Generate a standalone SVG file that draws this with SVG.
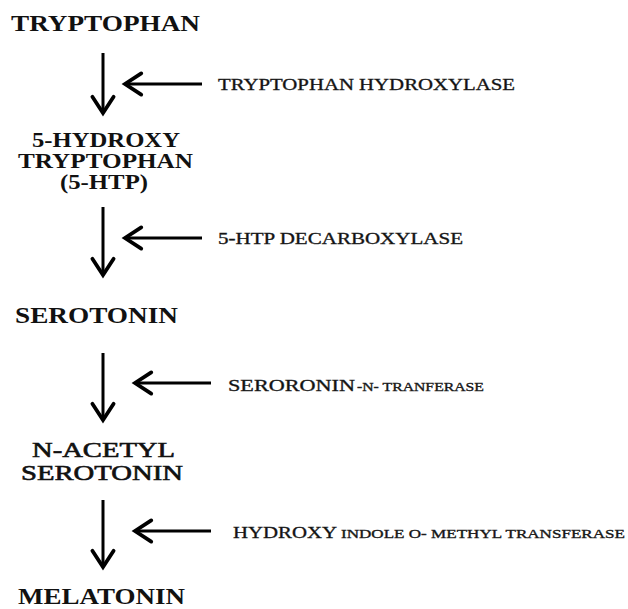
<svg xmlns="http://www.w3.org/2000/svg" width="628" height="609" viewBox="0 0 628 609">
<style>
text{font-family:"Liberation Serif","Times New Roman",serif;fill:#111}
.h{font-weight:bold;font-size:24px}
.h2{font-weight:bold;font-size:20px}
.h3{font-weight:normal;font-size:21px;stroke:#111;stroke-width:0.6}
.e{font-size:16.5px;stroke:#222;stroke-width:0.35}
.es{font-size:13px;stroke:#222;stroke-width:0.35}
.c line{stroke:#000;stroke-width:3}
</style>
<defs>
<marker id="ah" markerUnits="userSpaceOnUse" markerWidth="30" markerHeight="30" refX="0" refY="0" viewBox="-16 -12 20 24" orient="auto" overflow="visible">
<path d="M-13,-8.5 L0,0 L-13,8.5" fill="none" stroke="#000" stroke-width="3" stroke-linecap="round" stroke-linejoin="miter"/>
</marker>
</defs>
<rect width="628" height="609" fill="#fff"/>
<g id="connectors" class="c">
<line x1="103" y1="53" x2="103" y2="113" marker-end="url(#ah)"/>
<line x1="202" y1="84" x2="125" y2="84" marker-end="url(#ah)"/>
<line x1="103" y1="207" x2="103" y2="275" marker-end="url(#ah)"/>
<line x1="202" y1="238" x2="125" y2="238" marker-end="url(#ah)"/>
<line x1="103" y1="353" x2="103" y2="420" marker-end="url(#ah)"/>
<line x1="211" y1="383" x2="135" y2="383" marker-end="url(#ah)"/>
<line x1="103" y1="500" x2="103" y2="567" marker-end="url(#ah)"/>
<line x1="211" y1="531" x2="135" y2="531" marker-end="url(#ah)"/>
</g>
<g id="tryptophan"><text class="h" x="11" y="31" textLength="189" lengthAdjust="spacingAndGlyphs">TRYPTOPHAN</text></g>
<g id="htp">
<text class="h2" x="32" y="147" textLength="148" lengthAdjust="spacingAndGlyphs">5-HYDROXY</text>
<text class="h2" x="18" y="168" textLength="175" lengthAdjust="spacingAndGlyphs">TRYPTOPHAN</text>
<text class="h2" x="60" y="189" textLength="88" lengthAdjust="spacingAndGlyphs">(5-HTP)</text>
</g>
<g id="serotonin"><text class="h" x="15" y="323" textLength="163" lengthAdjust="spacingAndGlyphs">SEROTONIN</text></g>
<g id="nacetyl">
<text class="h3" x="32" y="457" textLength="143" lengthAdjust="spacingAndGlyphs">N-ACETYL</text>
<text class="h3" x="21" y="480" textLength="162" lengthAdjust="spacingAndGlyphs">SEROTONIN</text>
</g>
<g id="melatonin"><text class="h" x="18" y="604" textLength="167" lengthAdjust="spacingAndGlyphs">MELATONIN</text></g>
<g id="enzyme1"><text class="e" x="218" y="90" textLength="297" lengthAdjust="spacingAndGlyphs">TRYPTOPHAN HYDROXYLASE</text></g>
<g id="enzyme2"><text class="e" x="218" y="244" textLength="245" lengthAdjust="spacingAndGlyphs">5-HTP DECARBOXYLASE</text></g>
<g id="enzyme3">
<text class="e" x="228" y="391" textLength="127" lengthAdjust="spacingAndGlyphs">SERORONIN</text>
<text class="es" x="357" y="391" textLength="127" lengthAdjust="spacingAndGlyphs">-N- TRANFERASE</text>
</g>
<g id="enzyme4">
<text class="e" x="233" y="538" textLength="104" lengthAdjust="spacingAndGlyphs">HYDROXY</text>
<text class="es" x="341" y="538" textLength="284" lengthAdjust="spacingAndGlyphs">INDOLE O- METHYL TRANSFERASE</text>
</g>
</svg>
